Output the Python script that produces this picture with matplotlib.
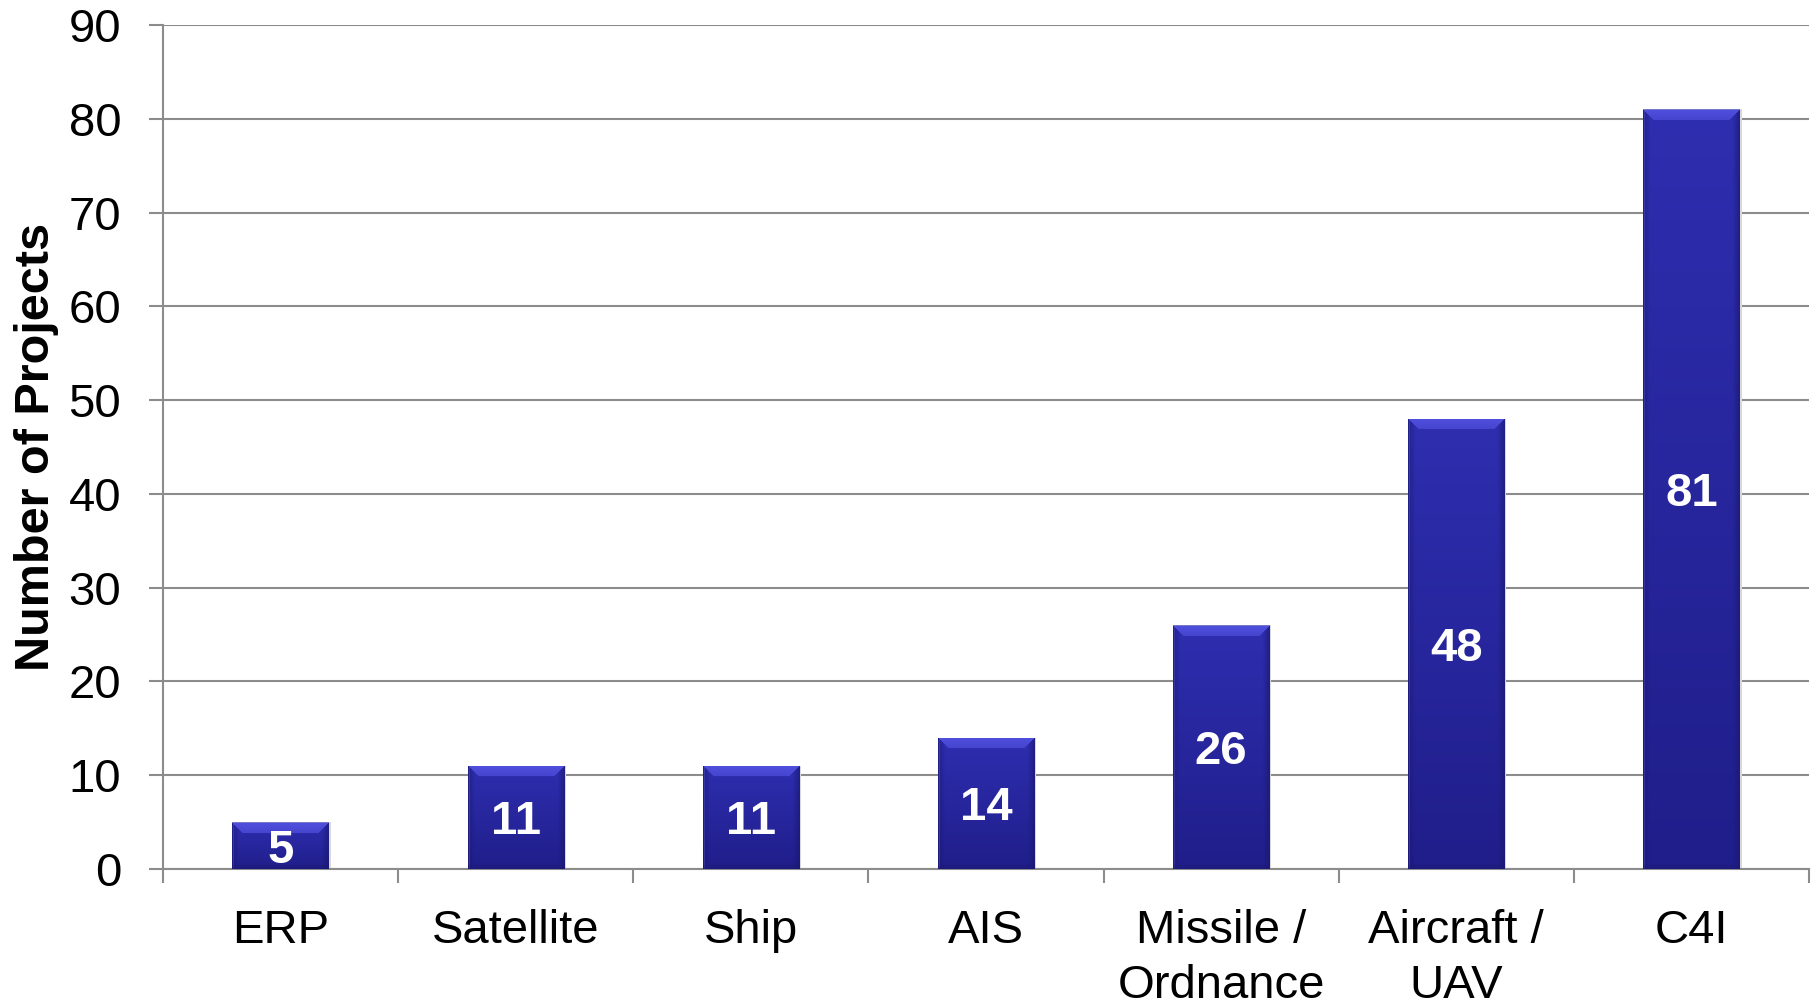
import numpy as np
import matplotlib
matplotlib.use("Agg")
import matplotlib.pyplot as plt

categories = ["ERP", "Satellite", "Ship", "AIS", "Missile /\nOrdnance", "Aircraft /\nUAV", "C4I"]
projects = [5, 11, 11, 14, 26, 48, 81]
y_ticks = [0, 10, 20, 30, 40, 50, 60, 70, 80, 90]

plt.rcParams["font.family"] = ["Liberation Sans", "DejaVu Sans"]

W, H, DPI = 1816, 1001, 100
fig = plt.figure(figsize=(W / DPI, H / DPI), dpi=DPI)
ax = fig.add_axes([163 / W, 1 - 869 / H, (1809 - 163) / W, (869 - 25) / H])

grid_color = "#8c8c8c"
x = np.arange(len(categories))
bars = ax.bar(x, projects, width=0.41, color="#2828a4", zorder=3, linewidth=0)

ax.set_xlim(-0.5, len(categories) - 0.5)
ax.set_ylim(0, 90)
ax.set_yticks(y_ticks)
ax.yaxis.grid(True, color=grid_color, linewidth=1.5, zorder=0)
ax.set_axisbelow(True)

for side in ("top", "right"):
    ax.spines[side].set_visible(False)
for side in ("left", "bottom"):
    ax.spines[side].set_color(grid_color)
    ax.spines[side].set_linewidth(1.5)

# x ticks at category boundaries, labels at centres
ax.set_xticks(np.arange(-0.5, len(categories), 1.0))
ax.set_xticklabels([])
ax.set_xticks(x, minor=True)
ax.set_xticklabels(categories, minor=True, fontsize=34, linespacing=1.32)
ax.tick_params(axis="x", which="major", length=10, width=1.5, color=grid_color, direction="out")
ax.tick_params(axis="x", which="minor", length=0, pad=29)
ax.tick_params(axis="y", length=10, width=1.5, color=grid_color, labelsize=34, pad=20)

ax.set_ylabel("Number of Projects", fontsize=35, fontweight="bold", labelpad=7)

# beveled fill for each bar
fig.canvas.draw()
top_rgb = np.array([46, 46, 176]) / 255
bot_rgb = np.array([32, 30, 138]) / 255
bevel_rgb = np.array([80, 80, 222]) / 255
edge_rgb = np.array([26, 24, 112]) / 255
for rect in bars:
    bx, by = rect.get_x(), rect.get_y()
    bw, bh = rect.get_width(), rect.get_height()
    (px0, py0), (px1, py1) = ax.transData.transform([(bx, by), (bx + bw, by + bh)])
    npx = max(int(round(px1 - px0)), 2)
    npy = max(int(round(py1 - py0)), 2)
    t = np.linspace(0, 1, npy)[:, None, None]
    img = top_rgb * (1 - t) + bot_rgb * t
    img = np.repeat(img, npx, axis=1)
    cols = np.arange(npx)
    # darker side bands
    side = 7
    for c in range(side):
        f = 0.55 * (1 - c / side)
        img[:, c] = img[:, c] * (1 - f) + edge_rgb * f
        img[:, npx - 1 - c] = img[:, npx - 1 - c] * (1 - f * 1.2) + edge_rgb * f * 1.2
    img[:, 1] = img[:, 1] * 0.6 + np.array([90, 90, 200]) / 255 * 0.4
    # darker bottom band
    bb = min(6, npy // 3)
    for r in range(bb):
        f = 0.5 * (1 - r / bb)
        img[npy - 1 - r] = img[npy - 1 - r] * (1 - f) + edge_rgb * f
    # lighter top bevel
    bev = min(11, npy // 2)
    for r in range(bev):
        mask = (cols >= r) & (cols < npx - r)
        shade = 1 - 0.35 * r / bev
        img[r, mask] = bevel_rgb * shade + top_rgb * (1 - shade)
    img[0, :] = np.array([120, 120, 200]) / 255
    img = np.clip(img, 0, 1)
    im = ax.imshow(img, extent=[bx, bx + bw, by, by + bh], aspect="auto",
                   interpolation="bilinear", zorder=4)
    im.set_clip_path(rect)
    # soft shadow on the right
    ax.bar(bx + bw / 2 + 0.008, bh, width=bw, bottom=0, color="#d8d8d8",
           zorder=2.5, linewidth=0)

for rect, val in zip(bars, projects):
    ax.text(rect.get_x() + rect.get_width() / 2, val / 2, str(val),
            ha="center", va="center_baseline", color="white", fontsize=34,
            fontweight="bold", zorder=6)

ax.set_xlim(-0.5, len(categories) - 0.5)
ax.set_ylim(0, 90)

fig.savefig("out.png", dpi=DPI, facecolor="white")
